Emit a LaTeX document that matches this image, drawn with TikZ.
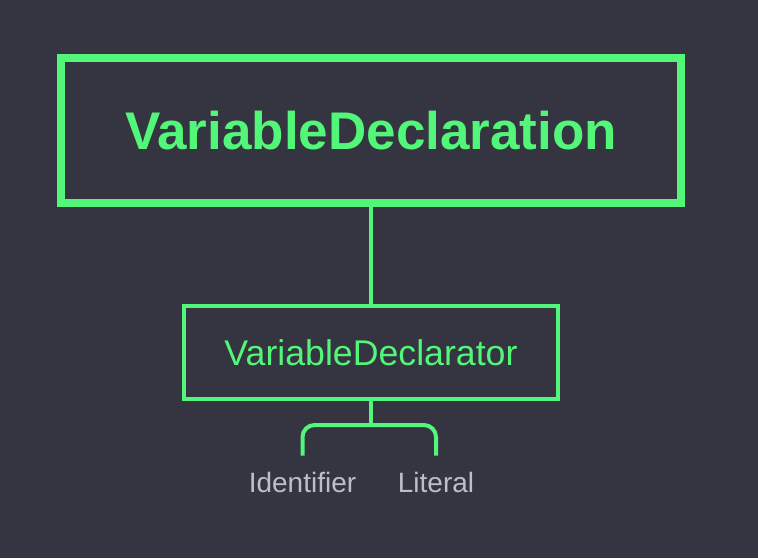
\documentclass[tikz,border=0pt]{standalone}
\usepackage{fontspec}
\setmainfont{Liberation Sans}
\usetikzlibrary{positioning, calc}

\definecolor{bgdark}{RGB}{53,53,65}
\definecolor{astgreen}{RGB}{82,246,120}
\definecolor{leafgray}{RGB}{190,190,202}

\begin{document}
\begin{tikzpicture}[
    x=1pt, y=-1pt,
    rootbox/.style={rectangle, draw=astgreen, line width=8pt, minimum width=620pt, minimum height=145pt, text=astgreen, font=\fontsize{53}{58}\selectfont\bfseries},
    childbox/.style={rectangle, draw=astgreen, line width=4pt, minimum width=374pt, minimum height=93pt, text=astgreen, font=\fontsize{35.7}{40}\selectfont},
    leaf/.style={inner xsep=0pt, inner ysep=16pt, text=leafgray, font=\fontsize{28}{32}\selectfont},
    link/.style={draw=astgreen, line width=4pt},
    fork/.style={link, rounded corners=12pt}
]

\fill[bgdark] (0,0) rectangle (758,558);
\useasboundingbox (0,0) rectangle (758,558);

\node[rootbox] (decl) at (371,130.5) {VariableDeclaration};
\node[childbox] (declr) at (371,352.5) {VariableDeclarator};
\node[leaf, anchor=base] (ident) at (302.5,492) {Identifier};
\node[leaf, anchor=base] (lit) at (436,492) {Literal};

\coordinate (split) at ($(declr.south)+(0,24)$);

\draw[link] (decl.south) -- (declr.north);
\draw[link] (declr.south) -- (split);
\draw[fork] (split) -| (ident.north);
\draw[fork] (split) -| (lit.north);

\end{tikzpicture}
\end{document}
